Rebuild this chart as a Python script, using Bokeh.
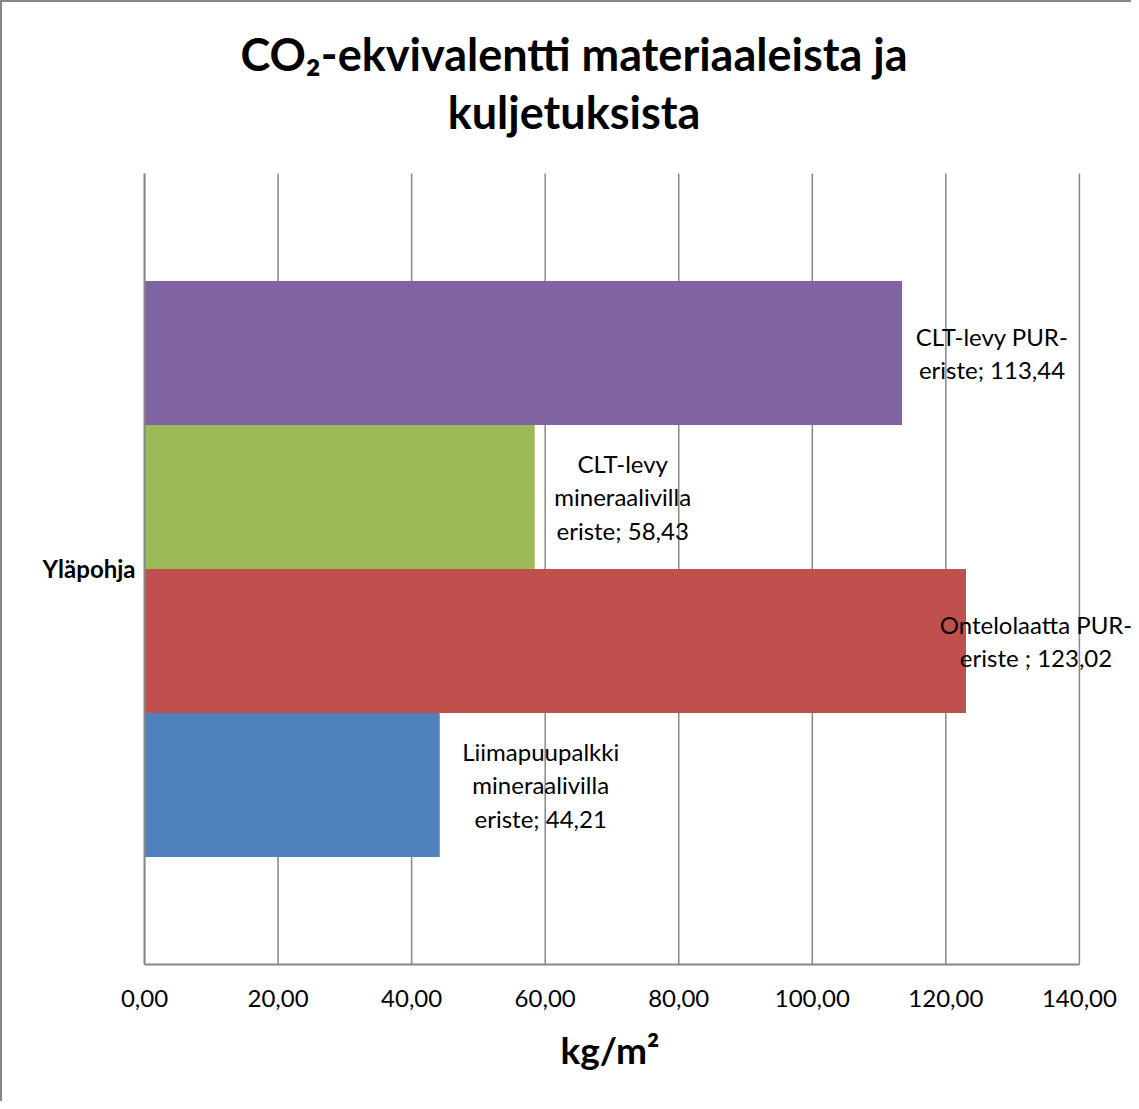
from bokeh.plotting import figure
from bokeh.models import FixedTicker, ColumnDataSource, Title, Range1d
from bokeh.transform import dodge
from bokeh.core.properties import value
from bokeh.embed import file_html
from bokeh.resources import INLINE

# ---- data ----
categories = ["Yläpohja"]
series_names = [
    "Liimapuupalkki mineraalivilla eriste",
    "Ontelolaatta PUR-eriste",
    "CLT-levy mineraalivilla eriste",
    "CLT-levy PUR-eriste",
]
series_values = [44.21, 123.02, 58.43, 113.44]
label_texts = [
    "Liimapuupalkki\nmineraalivilla\neriste; 44,21",
    "Ontelolaatta PUR-\neriste ; 123,02",
    "CLT-levy\nmineraalivilla\neriste; 58,43",
    "CLT-levy PUR-\neriste; 113,44",
]
series_colors = ["#4F81BD", "#C0504D", "#9BBB59", "#8064A2"]
tick_values = [0, 20, 40, 60, 80, 100, 120, 140]
tick_labels = ["0,00", "20,00", "40,00", "60,00", "80,00", "100,00", "120,00", "140,00"]
title_lines = ["CO₂-ekvivalentti materiaaleista ja", "kuljetuksista"]
x_title = "kg/m²"

# ---- layout / style ----
cat_pos = [i + 0.5 for i in range(len(categories))]      # centre of each category band
band = (0, len(categories))
dodge_offsets = [-0.273, -0.091, 0.091, 0.273]
bar_h = 0.182
label_px = [101, 70, 88, 90]
title_dy = [-119, -61]          # px above the plot-area top
title_dx = -38                  # px from axis centre
FONT = "Lato"
GRID = "#878787"

p = figure(
    width=1131, height=1101,
    y_range=Range1d(band[0], band[1] + 0.2035),
    x_range=Range1d(0, 148.1),
    output_backend="svg", toolbar_location=None,
    min_border_left=142, min_border_right=0,
    min_border_top=10, min_border_bottom=139,
)
p.title = None
p.outline_line_color = None
p.background_fill_color = "white"
p.border_fill_color = "white"
p.xgrid.grid_line_color = None
p.ygrid.grid_line_color = None
p.styles = {"border-left": "2px solid #878787", "border-top": "2px solid #878787"}

# vertical gridlines over the category band
p.segment(x0=tick_values, y0=[band[0]] * len(tick_values),
          x1=tick_values, y1=[band[1]] * len(tick_values),
          line_color=GRID, line_width=1.5)

for i in range(len(series_values)):
    src = ColumnDataSource(dict(pos=cat_pos, val=[series_values[i]], lab=[label_texts[i]]))
    ycol = dodge("pos", dodge_offsets[i])
    p.hbar(y=ycol, left=0, right="val", height=bar_h, source=src,
           fill_color=series_colors[i], line_color=None)
    p.text(x="val", y=ycol, text="lab", source=src, x_offset=label_px[i],
           text_align="center", text_baseline="middle",
           text_font=value(FONT), text_font_size="24px", text_line_height=1.15,
           text_color="black")

# chart title: two centred lines
mid_x = (tick_values[0] + tick_values[-1]) / 2
p.text(x=[mid_x] * 2, y=[band[1]] * 2, text=title_lines, x_offset=title_dx, y_offset=title_dy,
       text_align="center", text_baseline="middle", text_font=value(FONT),
       text_font_size="45px", text_font_style="bold", text_color="black")

# axis title below the axis
p.add_layout(Title(text=x_title, align="left", offset=416, standoff=34, vertical_align="top",
                   text_font=FONT, text_font_size="37px", text_font_style="bold",
                   text_color="black"), "below")

xa = p.xaxis[0]
xa.ticker = FixedTicker(ticks=tick_values)
xa.major_label_overrides = {t: l for t, l in zip(tick_values, tick_labels)}
xa.bounds = (tick_values[0], tick_values[-1])
xa.major_tick_out = 0
xa.major_tick_in = 0
xa.minor_tick_out = 0
xa.minor_tick_in = 0
xa.axis_line_color = GRID
xa.axis_line_width = 2
xa.major_label_text_font = FONT
xa.major_label_text_font_size = "24px"
xa.major_label_text_color = "black"
xa.major_label_standoff = 25

ya = p.yaxis[0]
ya.ticker = FixedTicker(ticks=cat_pos)
ya.major_label_overrides = {c: n for c, n in zip(cat_pos, categories)}
ya.bounds = band
ya.major_tick_out = 0
ya.major_tick_in = 0
ya.minor_tick_out = 0
ya.minor_tick_in = 0
ya.axis_line_color = GRID
ya.axis_line_width = 2
ya.major_label_text_font = FONT
ya.major_label_text_font_size = "24px"
ya.major_label_text_font_style = "bold"
ya.major_label_text_color = "black"
ya.major_label_standoff = 9

open("out.html", "w").write(file_html(p, INLINE))
